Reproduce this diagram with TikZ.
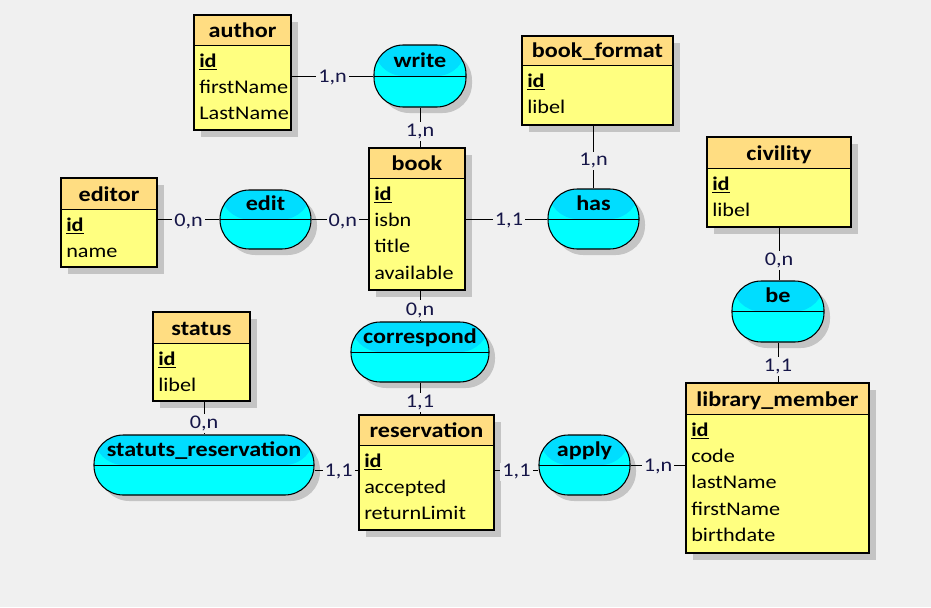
\documentclass[tikz,border=0pt]{standalone}
\usepackage{fontspec}
\setmainfont{Carlito}[FakeStretch=1.15]
\usetikzlibrary{fit,calc,shadows}
\definecolor{bgc}{RGB}{240,240,240}
\definecolor{hdrc}{RGB}{255,221,130}
\definecolor{bodyc}{RGB}{255,255,128}
\definecolor{relhdr}{RGB}{0,221,255}
\definecolor{relbody}{RGB}{0,255,255}
\definecolor{shadowc}{RGB}{196,196,196}
\definecolor{labc}{RGB}{22,22,72}
\tikzset{
  ttl/.style={inner sep=0pt, font=\fontsize{15.75}{18}\selectfont\bfseries},
  attr/.style={inner sep=0pt, font=\fontsize{14.5}{16}\selectfont},
  lbl/.style={fill=bgc, inner sep=1.5pt, text=labc, yshift=-1.5pt, font=\fontsize{14.5}{16}\selectfont},
  vlbl/.style={lbl, yshift=-1.5pt},
  conn/.style={line width=0.75pt},
  entbox/.style={draw, line width=0.8pt, inner sep=0pt},
  relshape/.style={draw, line width=0.8pt, inner sep=0pt, fill=relbody,
    rounded corners=22pt,
    drop shadow={shadow xshift=4.5pt, shadow yshift=-4.5pt, fill=shadowc, opacity=1},
    path picture={
      \fill[relhdr] (path picture bounding box.north west) rectangle (path picture bounding box.east);
      \draw[line width=0.6pt] (path picture bounding box.west) -- (path picture bounding box.east);}}
}
\newcommand\ent[8]{%
  \fill[shadowc] ({#2+7},{#3+7}) rectangle ({#4+7},{#5+7});
  \fill[bodyc] (#2,#3) rectangle (#4,#5);
  \fill[hdrc] (#2,#3) rectangle (#4,#6);
  \draw[line width=0.6pt] (#2,#6) -- (#4,#6);
  \node[entbox, fit={(#2,#3)(#4,#5)}] (#1) {};
  \node[ttl, anchor=base] (#1-title) at ({(#2+#4)/2},{#6-8}) {#7};
  \foreach \a [count=\i] in {#8} {\node[attr, anchor=base west] (#1-a\i) at ({#2+5},{#6+22+(\i-1)*26.4}) {\a};}
}
\newcommand\rel[6]{%
  \node[relshape, fit={(#2,#3)(#4,#5)}] (#1) {};
  \node[ttl, anchor=base] (#1-title) at ({(#2+#4)/2},{(#3+#5)/2-9}) {#6};
}
\newcommand\ID{\underline{\textbf{id}}}
\begin{document}
\begin{tikzpicture}[x=0.75pt,y=-0.75pt]
\fill[bgc] (0,0) rectangle (931,607);
\useasboundingbox (0,0) rectangle (931,607);

% entities
\ent{author}{194}{15}{291}{130}{45}{author}{\ID,firstName,LastName}
\ent{bookformat}{522}{36}{673}{125}{65}{book\_format}{\ID,libel}
\ent{civility}{707}{137}{851}{227}{168}{civility}{\ID,libel}
\ent{editor}{61}{178}{157}{267}{209}{editor}{\ID,name}
\ent{book}{369}{148}{465}{290}{178}{book}{\ID,isbn,title,available}
\ent{status}{153}{312}{250}{401}{343}{status}{\ID,libel}
\ent{reservation}{359}{415}{494}{530}{445}{reservation}{\ID,accepted,returnLimit}
\ent{member}{686}{383}{869}{553}{414}{library\_member}{\ID,code,lastName,firstName,birthdate}

% relationships
\rel{write}{374}{45}{466}{107}{write}
\rel{has}{548}{189}{639}{249}{has}
\rel{edit}{220}{190}{311}{249}{edit}
\rel{be}{732}{281}{824}{342}{be}
\rel{correspond}{351}{322}{489}{382}{correspond}
\rel{sr}{94}{435}{314}{495}{statuts\_reservation}
\rel{apply}{539}{435}{630}{495}{apply}

% connectors
\draw[conn] (author.east |- write.center) -- node[lbl]{1,n} (write.west);
\draw[conn] (write.south) -- node[vlbl]{1,n} (write.south |- book.north);
\draw[conn] (editor.east |- edit.center) -- node[lbl]{0,n} (edit.west);
\draw[conn] (edit.east) -- node[lbl, pos=0.55]{0,n} (edit.east -| book.west);
\draw[conn] (book.east |- has.center) -- node[lbl, pos=0.53]{1,1} (has.west);
\draw[conn] (has.north) -- node[vlbl]{1,n} (has.north |- bookformat.south);
\draw[conn] (civility.south |- be.north) -- node[vlbl, pos=0.45]{0,n} (civility.south);
\draw[conn] (be.south) -- node[vlbl]{1,1} (be.south |- member.north);
\draw[conn] (correspond.north |- book.south) -- node[vlbl]{0,n} (correspond.north);
\draw[conn] (correspond.south) -- node[vlbl]{1,1} (correspond.south |- reservation.north);
\draw[conn] (sr.north |- status.south) -- node[vlbl, pos=0.55]{0,n} (sr.north);
\draw[conn] ($(sr.east)+(0,5)$) -- node[lbl, pos=0.55]{1,1} ($(sr.east -| reservation.west)+(0,5)$);
\draw[conn] ($(reservation.east |- apply.center)+(0,5)$) -- node[lbl]{1,1} ($(apply.west)+(0,5)$);
\draw[conn] (apply.east) -- node[lbl]{1,n} (apply.east -| member.west);
\end{tikzpicture}
\end{document}
